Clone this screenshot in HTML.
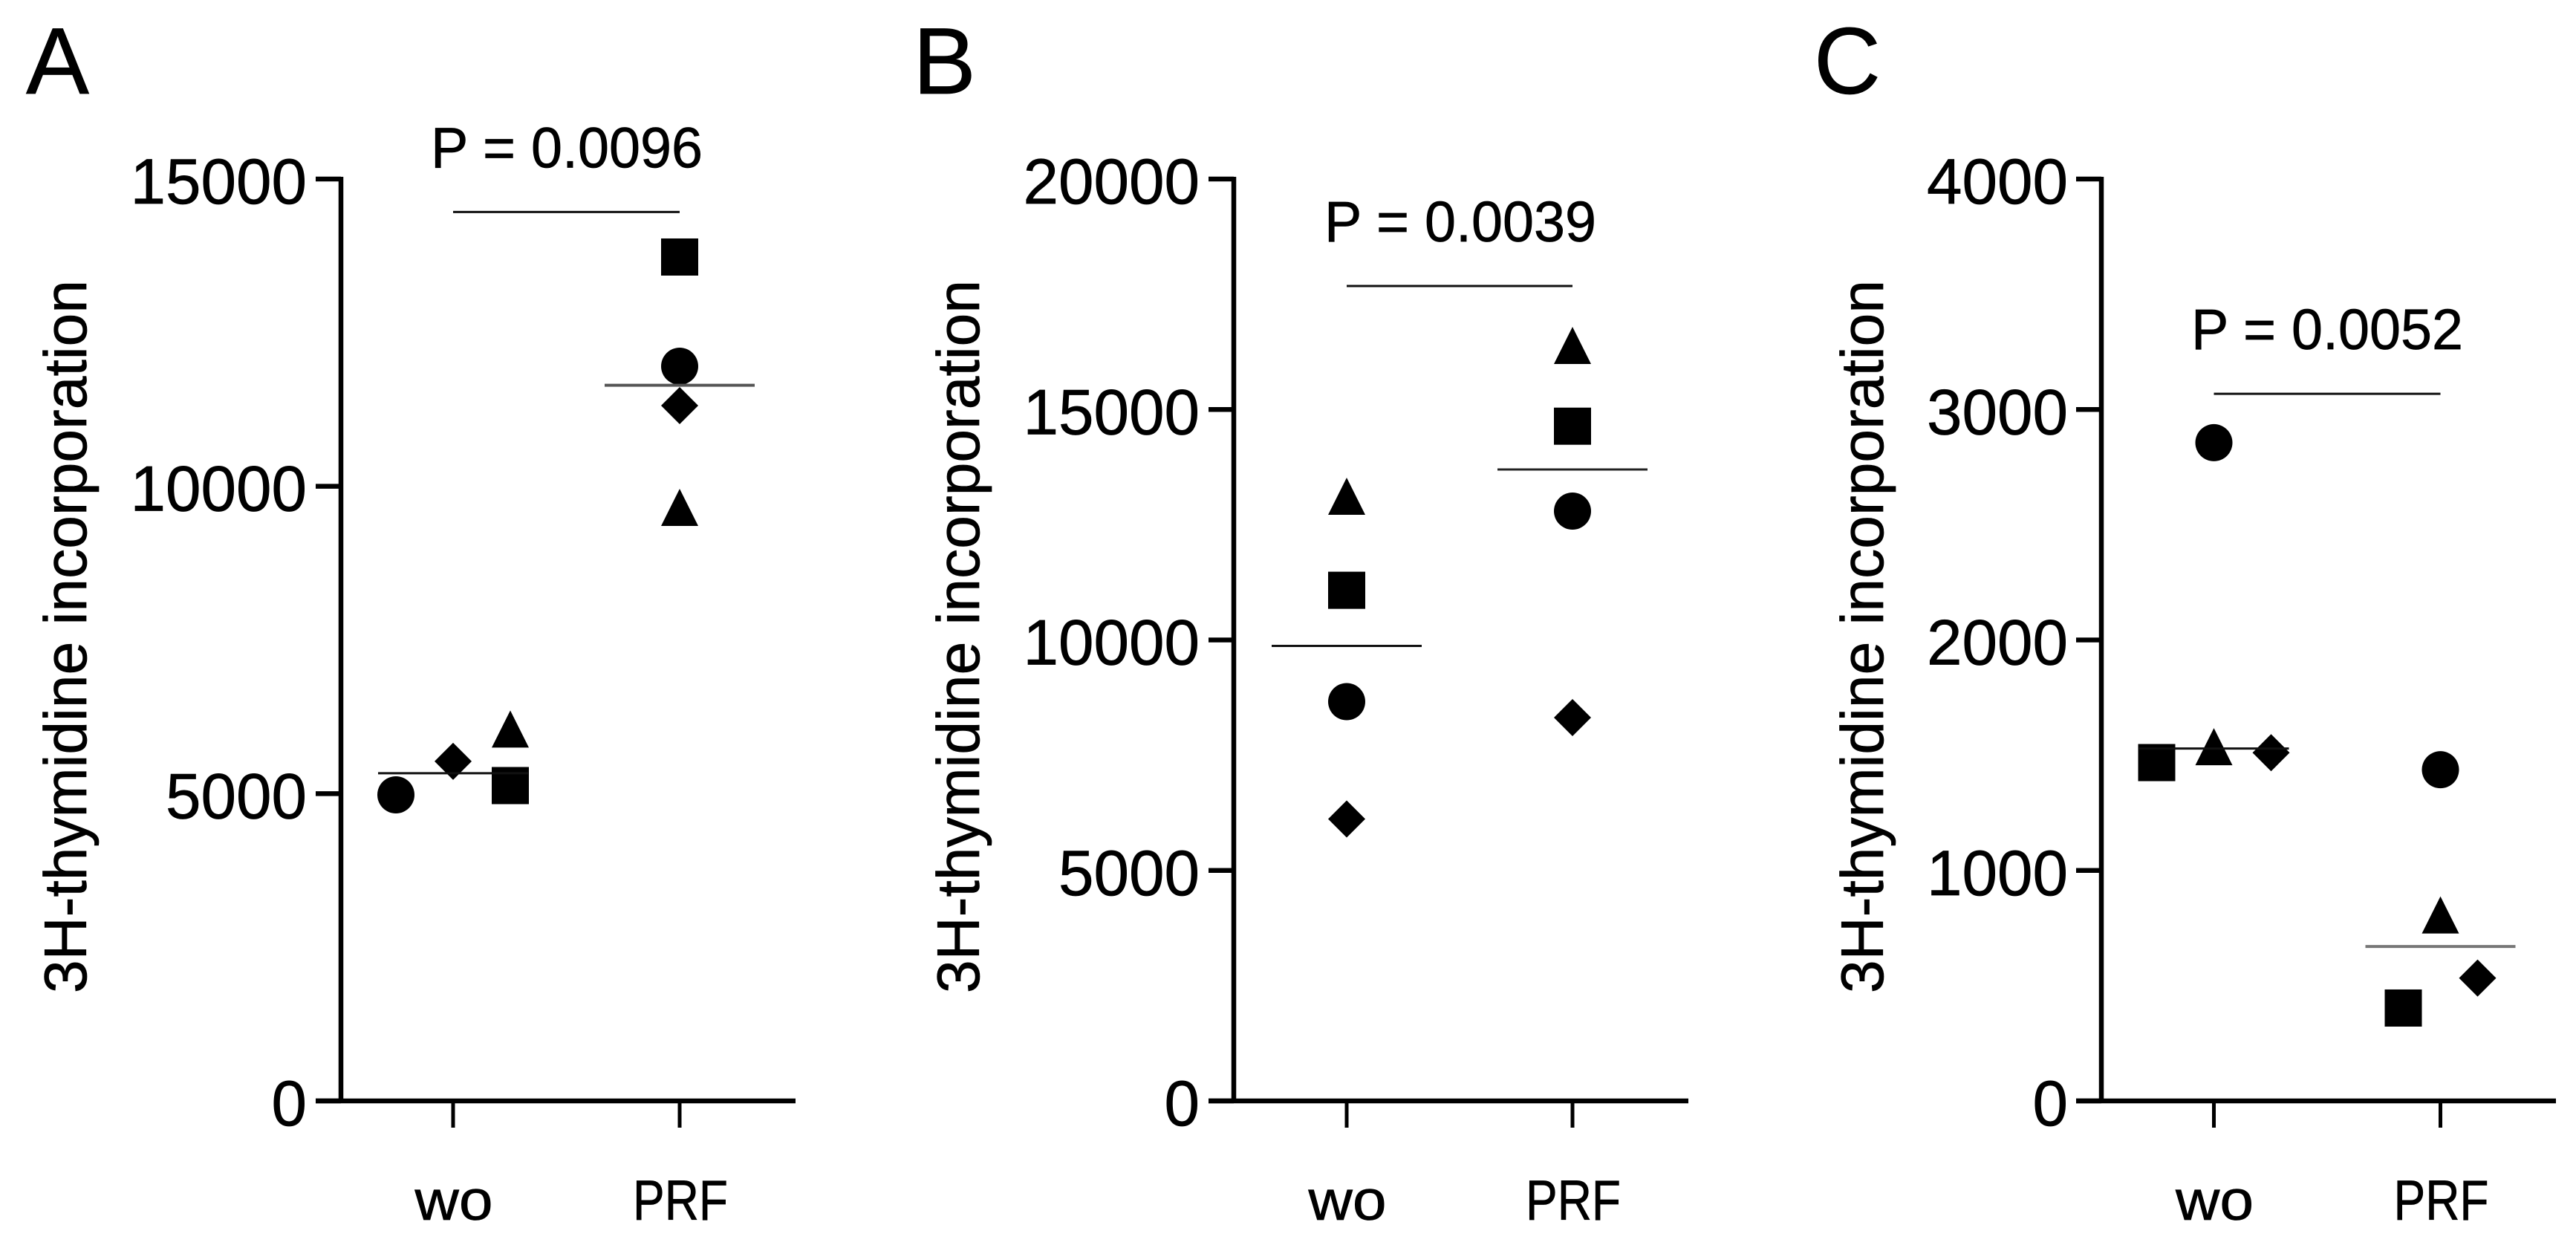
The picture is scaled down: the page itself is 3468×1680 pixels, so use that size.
<!DOCTYPE html>
<html lang="en">
<head>
<meta charset="utf-8">
<title>3H-thymidine incorporation</title>
<style>
html,body{margin:0;padding:0;background:#fff;width:3468px;height:1680px;overflow:hidden}
svg{display:block}
text{font-family:"Liberation Sans",sans-serif;fill:#000;stroke:#000;stroke-width:0.7px}
</style>
</head>
<body>
<svg id="figure" xmlns="http://www.w3.org/2000/svg" width="3468" height="1680" viewBox="0 0 3468 1680">
  <rect x="0" y="0" width="3468" height="1680" fill="#fff"/>

  <g id="panel-a">
    <text x="35" y="126" font-size="127" textLength="85" lengthAdjust="spacingAndGlyphs">A</text>
    <text transform="translate(116,1337) rotate(-90)" font-size="81" textLength="960" lengthAdjust="spacingAndGlyphs">3H-thymidine incorporation</text>
  </g>
  <g id="panel-b">
    <text x="1229" y="126" font-size="127" textLength="85" lengthAdjust="spacingAndGlyphs">B</text>
    <text transform="translate(1318,1337) rotate(-90)" font-size="81" textLength="960" lengthAdjust="spacingAndGlyphs">3H-thymidine incorporation</text>
  </g>
  <g id="panel-c">
    <text x="2442" y="126" font-size="127" textLength="90" lengthAdjust="spacingAndGlyphs">C</text>
    <text transform="translate(2535,1337) rotate(-90)" font-size="81" textLength="960" lengthAdjust="spacingAndGlyphs">3H-thymidine incorporation</text>
  </g>
</svg>

<script>
// ---- data ----
const categories = ['wo', 'PRF'];
const markerShapes = ['circle', 'square', 'triangle', 'diamond'];

const panelAYTicks = [0, 5000, 10000, 15000];
const panelAWo = [4980, 5131, 6051, 5526];
const panelAPrf = [11954, 13731, 9658, 11314];
const panelAMeans = [5332, 11645];
const panelASigValue = 14463;
const panelAPLabel = 'P = 0.0096';

const panelBYTicks = [0, 5000, 10000, 15000, 20000];
const panelBWo = [8662, 11078, 13118, 6116];
const panelBPrf = [12796, 14638, 16390, 8316];
const panelBMeans = [9871, 13698];
const panelBSigValue = 17679;
const panelBPLabel = 'P = 0.0039';

const panelCYTicks = [0, 1000, 2000, 3000, 4000];
const panelCWo = [2856, 1468, 1537, 1511];
const panelCPrf = [1437, 403, 807, 533];
const panelCMeans = [1529, 670];
const panelCSigValue = 3068;
const panelCPLabel = 'P = 0.0052';

// ---- layout (not data) ----
const SVGNS = 'http://www.w3.org/2000/svg';
const Y_TOP = 241, Y_BOTTOM = 1482, MARKER = 50, MEAN_HALF = 101;

function el(parent, tag, attrs, text) {
  const node = document.createElementNS(SVGNS, tag);
  for (const k in attrs) node.setAttribute(k, attrs[k]);
  if (text !== undefined) node.textContent = text;
  parent.appendChild(node);
  return node;
}

function drawMarker(g, shape, cx, cy) {
  const r = MARKER / 2;
  if (shape === 'circle') return el(g, 'ellipse', {cx: cx, cy: cy, rx: r, ry: r, fill: '#000'});
  if (shape === 'square') return el(g, 'rect', {x: cx - r, y: cy - r, width: MARKER, height: MARKER, fill: '#000'});
  if (shape === 'triangle') return el(g, 'polygon', {points: (cx - r) + ',' + (cy + r) + ' ' + (cx + r) + ',' + (cy + r) + ' ' + cx + ',' + (cy - r), fill: '#000'});
  return el(g, 'polygon', {points: (cx - r) + ',' + cy + ' ' + cx + ',' + (cy - r) + ' ' + (cx + r) + ',' + cy + ' ' + cx + ',' + (cy + r), fill: '#000'});
}

function drawPanel(cfg) {
  const g = document.getElementById(cfg.id);
  const yMax = cfg.ticks[cfg.ticks.length - 1];
  const yScale = v => Y_BOTTOM - (v / yMax) * (Y_BOTTOM - Y_TOP);
  const xScale = i => cfg.x0 + i * (cfg.x1 - cfg.x0);

  // y axis line
  const yAxis = el(g, 'line', {x1: cfg.axisX, x2: cfg.axisX, y1: Y_TOP - 3, y2: Y_BOTTOM, stroke: '#000', 'stroke-width': 6.5});
  
  

  // x axis line
  const xAxis = el(g, 'line', {x1: cfg.tickLeft, x2: cfg.endX, y1: Y_BOTTOM, y2: Y_BOTTOM, stroke: '#000', 'stroke-width': 6.5});
  
  

  // y ticks
  cfg.ticks.forEach(t => {
    const y = yScale(t);
    const tick = el(g, 'line', {x1: cfg.tickLeft, x2: cfg.axisX, y1: y, y2: y, stroke: '#000', 'stroke-width': 6.5});
    
    
    const s = String(t);
    const label = el(g, 'text', {x: cfg.labelRight, y: y + 33, 'font-size': 86, 'text-anchor': 'end', textLength: s.length * 47.5, lengthAdjust: 'spacingAndGlyphs'}, s);
    
    
  });

  // x ticks and category labels
  categories.forEach((c, i) => {
    const x = xScale(i);
    const tick = el(g, 'line', {x1: x, x2: x, y1: Y_BOTTOM, y2: 1518, stroke: '#000', 'stroke-width': 5});
    
    
    const label = el(g, 'text', {x: x + 1, y: 1642, 'font-size': 76, 'text-anchor': 'middle', textLength: c === 'wo' ? 105 : 128, lengthAdjust: 'spacingAndGlyphs'}, c);
    
    
  });

  // markers
  cfg.series.forEach((values, i) => {
    values.forEach((v, j) => {
      const m = drawMarker(g, markerShapes[j], xScale(i) + cfg.jitter[i][j], yScale(v));
      
      
    });
  });

  // mean lines
  cfg.means.forEach((v, i) => {
    const line = el(g, 'line', {x1: xScale(i) - MEAN_HALF, x2: xScale(i) + MEAN_HALF, y1: yScale(v), y2: yScale(v), stroke: cfg.meanColors[i], 'stroke-width': cfg.meanWidths[i]});
    
    
  });

  // significance bar + label
  const sy = yScale(cfg.sig);
  const bar = el(g, 'line', {x1: xScale(0), x2: xScale(1), y1: sy, y2: sy, stroke: '#111', 'stroke-width': 3});
  
  
  const p = el(g, 'text', {x: cfg.pX, y: sy - 60, 'font-size': 77, textLength: 366, lengthAdjust: 'spacingAndGlyphs'}, cfg.pLabel);
  
  
}

drawPanel({
  id: 'panel-a', ticks: panelAYTicks, series: [panelAWo, panelAPrf], means: panelAMeans, sig: panelASigValue, pLabel: panelAPLabel,
  axisX: 459, tickLeft: 425, endX: 1071, x0: 610, x1: 915, labelRight: 413, pX: 580,
  jitter: [[-77, 77, 77, 0], [0, 0, 0, 0]],
  meanColors: ['#111', '#555'], meanWidths: [3, 4]
});
drawPanel({
  id: 'panel-b', ticks: panelBYTicks, series: [panelBWo, panelBPrf], means: panelBMeans, sig: panelBSigValue, pLabel: panelBPLabel,
  axisX: 1661, tickLeft: 1627, endX: 2273, x0: 1813, x1: 2117, labelRight: 1615, pX: 1783,
  jitter: [[0, 0, 0, 0], [0, 0, 0, 0]],
  meanColors: ['#111', '#222'], meanWidths: [3, 3]
});
drawPanel({
  id: 'panel-c', ticks: panelCYTicks, series: [panelCWo, panelCPrf], means: panelCMeans, sig: panelCSigValue, pLabel: panelCPLabel,
  axisX: 2829, tickLeft: 2795, endX: 3441, x0: 2980.5, x1: 3285.5, labelRight: 2784, pX: 2950,
  jitter: [[0, -77, 0, 77], [0, -50, 0, 50]],
  meanColors: ['#111', '#777'], meanWidths: [3, 4]
});
</script>
</body>
</html>
